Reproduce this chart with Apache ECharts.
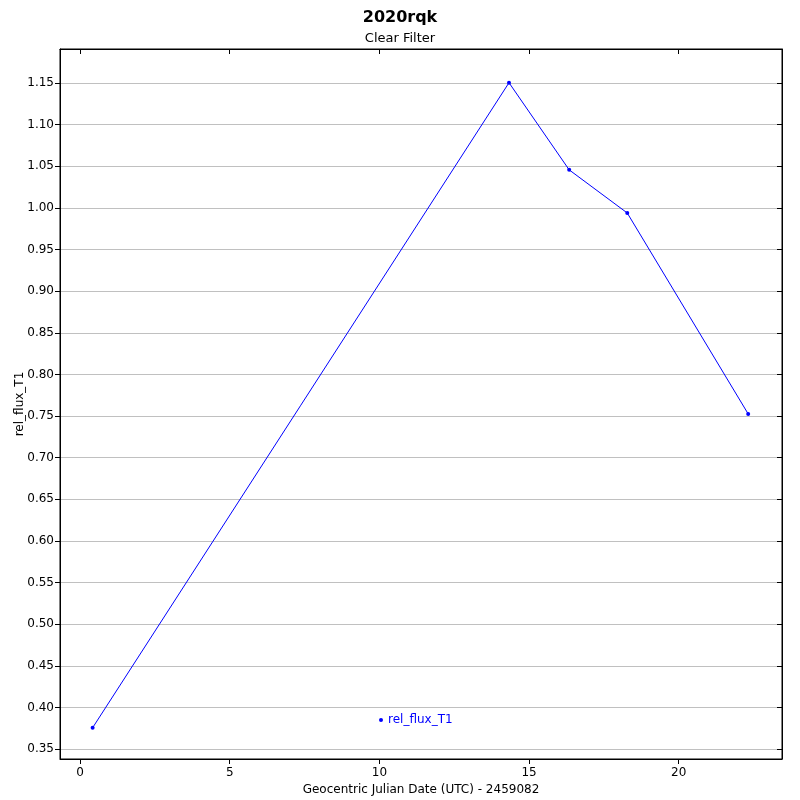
<!DOCTYPE html>
<html><head><meta charset="utf-8">
<script src="https://cdn.jsdelivr.net/npm/echarts@6/dist/echarts.min.js"></script>
<style>html,body{margin:0;padding:0;background:#fff}#c{width:800px;height:800px}</style>
</head><body><div id="c"></div>
<script>
const xValues = [0.42, 14.33, 16.34, 18.28, 22.32];
const yValues = [0.3756, 1.1505, 1.0458, 0.994, 0.7526];
const xTicks = [0, 5, 10, 15, 20];
const yTicks = [0.35,0.40,0.45,0.50,0.55,0.60,0.65,0.70,0.75,0.80,0.85,0.90,0.95,1.00,1.05,1.10,1.15];
const seriesName = 'rel_flux_T1';
const F = 'DejaVu Sans';
const xMin = -0.67, xMax = 23.45, yMin = 0.338, yMax = 1.191;
const chart = echarts.init(document.getElementById('c'));
const axisLbl = {color:'#000', fontFamily:F, fontSize:12};
chart.setOption({
  animation:false,
  backgroundColor:'#fff',
  title:{text:'2020rqk', subtext:'Clear Filter', left:'center', top:5, itemGap:6,
    textStyle:{fontFamily:F, fontSize:16, fontWeight:'bold', color:'#000'},
    subtextStyle:{fontFamily:F, fontSize:13, color:'#000'}},
  legend:{data:[{name:seriesName, icon:'circle'}], left:374, top:709, itemWidth:4, itemHeight:4, itemGap:7,
    textStyle:{color:'#0000ff', fontFamily:F, fontSize:12}},
  grid:{left:60, right:18, top:49, bottom:41, outerBoundsMode:'none', containLabel:false,
    show:true, borderColor:'#000', borderWidth:1, backgroundColor:'#fff'},
  xAxis:[{type:'value', min:xMin, max:xMax, position:'bottom',
    name:'Geocentric Julian Date (UTC) - 2459082', nameLocation:'middle', nameGap:25, nameMoveOverlap:false,
    nameTextStyle:{fontFamily:F, fontSize:12, color:'#000'},
    axisLine:{show:true, onZero:false, lineStyle:{color:'#000'}},
    axisTick:{show:true, length:5, customValues:xTicks, lineStyle:{color:'#000'}},
    axisLabel:Object.assign({customValues:xTicks, margin:8}, axisLbl),
    splitLine:{show:false}},
   {type:'value', min:xMin, max:xMax, position:'top',
    axisLine:{show:true, onZero:false, lineStyle:{color:'#000'}},
    axisTick:{show:true, inside:true, length:5, customValues:xTicks, lineStyle:{color:'#000'}},
    axisLabel:{show:false}, splitLine:{show:false}}],
  yAxis:[{type:'value', min:yMin, max:yMax, position:'left',
    name:seriesName, nameLocation:'middle', nameGap:34, nameMoveOverlap:false,
    nameTextStyle:{fontFamily:F, fontSize:12, color:'#000'},
    axisLine:{show:true, onZero:false, lineStyle:{color:'#000'}},
    axisTick:{show:true, length:5, customValues:yTicks, lineStyle:{color:'#000'}},
    axisLabel:Object.assign({customValues:yTicks, margin:6, formatter:v=>v.toFixed(2)}, axisLbl),
    splitLine:{show:true, lineStyle:{color:'#c0c0c0', width:1}}},
   {type:'value', min:yMin, max:yMax, position:'right',
    axisLine:{show:true, onZero:false, lineStyle:{color:'#000'}},
    axisTick:{show:true, inside:true, length:5, customValues:yTicks, lineStyle:{color:'#000'}},
    axisLabel:{show:false}, splitLine:{show:false}}],
  series:[{name:seriesName, type:'line', xAxisIndex:0, yAxisIndex:0,
    data:xValues.map((x,i)=>[x,yValues[i]]),
    color:'#0000ff', symbol:'circle', symbolSize:4, showSymbol:true,
    lineStyle:{color:'#0000ff', width:1}, itemStyle:{color:'#0000ff'}}]
});
</script></body></html>
